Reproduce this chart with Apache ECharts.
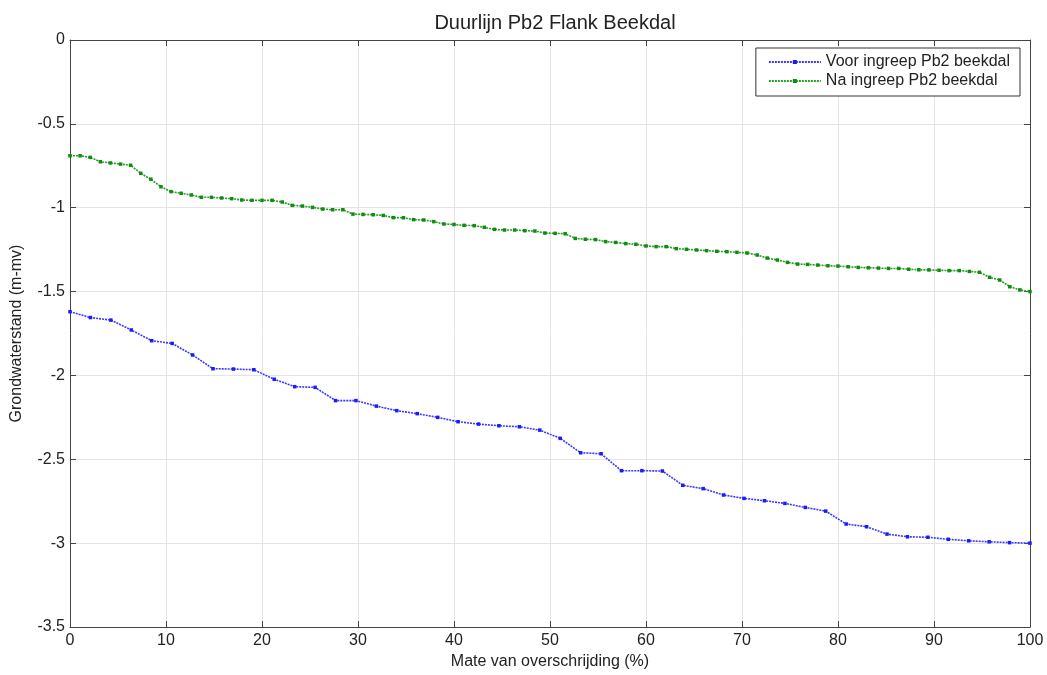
<!DOCTYPE html>
<html>
<head>
<meta charset="utf-8">
<script src="https://cdn.jsdelivr.net/npm/echarts@6/dist/echarts.min.js"></script>
<style>
html,body{margin:0;padding:0;background:#fff;}
#chart{width:1047px;height:675px;}
</style>
</head>
<body>
<div id="chart"></div>
<script>
// ---- Data ----
const chartTitle = 'Duurlijn Pb2 Flank Beekdal';
const xAxisName = 'Mate van overschrijding (%)';
const yAxisName = 'Grondwaterstand (m-mv)';
const seriesNames = ['Voor ingreep Pb2 beekdal', 'Na ingreep Pb2 beekdal'];

// groundwater level (m-mv), ordered by exceedance rank
const voorValues = [
  -1.62, -1.655, -1.67, -1.729, -1.793, -1.809, -1.878, -1.96, -1.962, -1.966,
  -2.023, -2.067, -2.071, -2.15, -2.15, -2.183, -2.21, -2.228, -2.25, -2.276,
  -2.29, -2.30, -2.306, -2.326, -2.375, -2.461, -2.467, -2.568, -2.568, -2.57,
  -2.655, -2.675, -2.713, -2.733, -2.747, -2.763, -2.787, -2.809, -2.886, -2.902,
  -2.946, -2.962, -2.965, -2.977, -2.986, -2.992, -2.997, -3.0
];
const naValues = [
  -0.69, -0.69, -0.70, -0.726, -0.733, -0.74, -0.747, -0.795, -0.83, -0.875,
  -0.904, -0.914, -0.924, -0.938, -0.938, -0.942, -0.946, -0.954, -0.956, -0.956,
  -0.956, -0.966, -0.986, -0.99, -0.998, -1.008, -1.012, -1.012, -1.038, -1.04,
  -1.042, -1.046, -1.059, -1.06, -1.071, -1.073, -1.083, -1.097, -1.10, -1.105,
  -1.107, -1.117, -1.129, -1.133, -1.133, -1.137, -1.139, -1.151, -1.153, -1.155,
  -1.183, -1.188, -1.19, -1.202, -1.207, -1.214, -1.218, -1.228, -1.232, -1.232,
  -1.244, -1.248, -1.252, -1.256, -1.26, -1.262, -1.266, -1.27, -1.282, -1.30,
  -1.312, -1.326, -1.336, -1.338, -1.342, -1.346, -1.348, -1.352, -1.356, -1.358,
  -1.36, -1.362, -1.362, -1.367, -1.37, -1.371, -1.373, -1.375, -1.375, -1.38,
  -1.385, -1.415, -1.431, -1.471, -1.49, -1.50
];
const xTicks = [0, 10, 20, 30, 40, 50, 60, 70, 80, 90, 100];
const yTicks = [0, -0.5, -1, -1.5, -2, -2.5, -3, -3.5];

// exceedance percentage of each ranked value (0 .. 100 %)
function toPairs(vals) {
  const n = vals.length;
  return vals.map((v, i) => [i * 100 / (n - 1), v]);
}

const FONT = '"Liberation Sans", Arial, Helvetica, sans-serif';
const chart = echarts.init(document.getElementById('chart'), null, {renderer: 'canvas'});

const axisCommon = {
  axisLine: {show: true, onZero: false, lineStyle: {color: '#444', width: 1}},
  axisTick: {show: true, inside: true, length: 6, lineStyle: {color: '#444'}},
};

chart.setOption({
  backgroundColor: '#fff',
  animation: false,
  textStyle: {fontFamily: FONT},
  title: {
    text: chartTitle,
    left: 550, top: 8, textAlign: 'center',
    textStyle: {fontSize: 20, fontWeight: 'normal', color: '#222', fontFamily: FONT}
  },
  legend: {
    orient: 'vertical',
    right: 27, top: 48,
    padding: [6, 10, 7, 12],
    itemGap: 3,
    itemWidth: 52, itemHeight: 5,
    borderColor: '#333', borderWidth: 1,
    backgroundColor: '#fff',
    textStyle: {fontSize: 16, color: '#222', fontFamily: FONT},
    data: seriesNames
  },
  grid: {left: 70, right: 17, top: 40, bottom: 48, show: false},
  xAxis: [
    Object.assign({
      type: 'value', min: xTicks[0], max: xTicks[xTicks.length - 1], interval: 10,
      name: xAxisName, nameLocation: 'middle', nameGap: 25,
      nameTextStyle: {fontSize: 16, color: '#222', fontFamily: FONT},
      axisLabel: {fontSize: 16, color: '#222', margin: 6, fontFamily: FONT},
      splitLine: {show: true, lineStyle: {color: '#e4e4e4', width: 1}},
      position: 'bottom'
    }, axisCommon),
    Object.assign({
      type: 'value', min: xTicks[0], max: xTicks[xTicks.length - 1], interval: 10,
      position: 'top', axisLabel: {show: false}, splitLine: {show: false}
    }, axisCommon)
  ],
  yAxis: [
    Object.assign({
      type: 'value', min: yTicks[yTicks.length - 1], max: yTicks[0], interval: 0.5,
      name: yAxisName, nameLocation: 'middle', nameGap: 45, nameRotate: 90,
      nameTextStyle: {fontSize: 16, color: '#222', fontFamily: FONT},
      axisLabel: {fontSize: 16, color: '#222', margin: 5, fontFamily: FONT},
      splitLine: {show: true, lineStyle: {color: '#e4e4e4', width: 1}},
      position: 'left'
    }, axisCommon),
    Object.assign({
      type: 'value', min: yTicks[yTicks.length - 1], max: yTicks[0], interval: 0.5,
      position: 'right', axisLabel: {show: false}, splitLine: {show: false}
    }, axisCommon)
  ],
  series: [
    {
      name: seriesNames[0], type: 'line', xAxisIndex: 0, yAxisIndex: 0,
      data: toPairs(voorValues),
      symbol: 'rect', symbolSize: 3.5, showSymbol: true,
      itemStyle: {color: '#1a1aff'},
      lineStyle: {color: '#3a3aff', width: 1.6, type: [2, 1]}
    },
    {
      name: seriesNames[1], type: 'line', xAxisIndex: 0, yAxisIndex: 0,
      data: toPairs(naValues),
      symbol: 'rect', symbolSize: 3.5, showSymbol: true,
      itemStyle: {color: '#118a11'},
      lineStyle: {color: '#22a022', width: 1.6, type: [2, 1]}
    }
  ]
});
</script>
</body>
</html>
